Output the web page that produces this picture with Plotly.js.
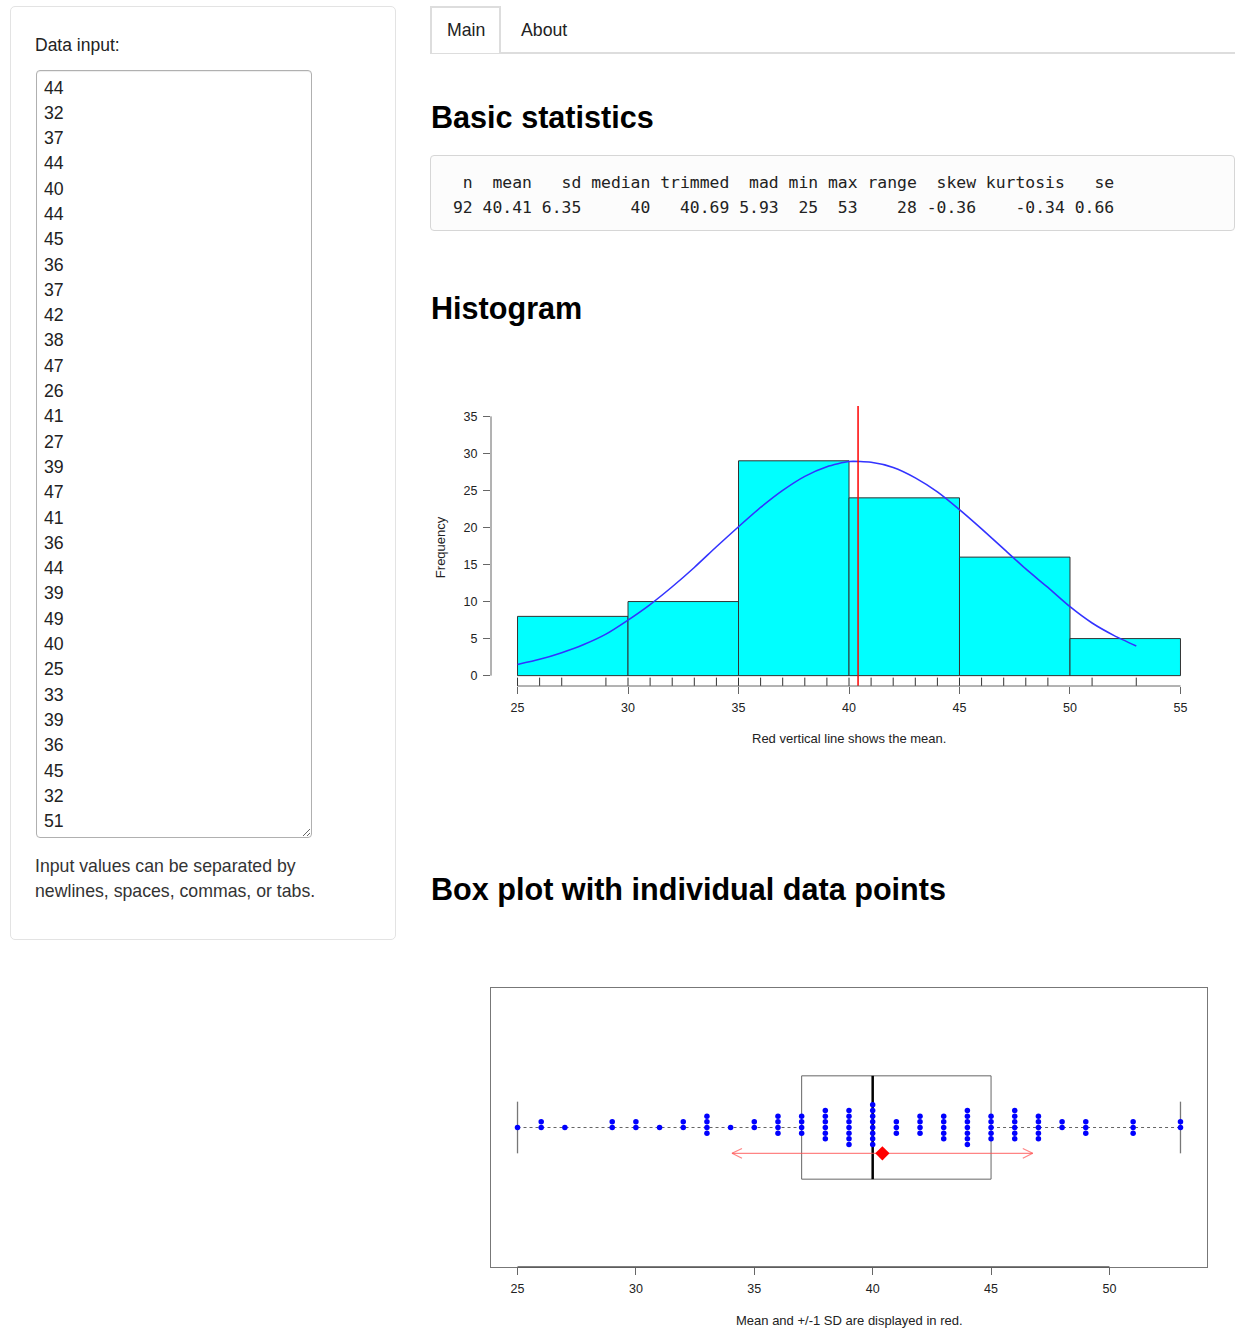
<!DOCTYPE html>
<html>
<head>
<meta charset="utf-8">
<script src="https://cdn.plot.ly/plotly-3.0.1.min.js"></script>
<style>
  html, body { margin:0; padding:0; background:#fff; width:1235px; height:1341px; overflow:hidden; }
  body { position:relative; font-family:"Liberation Sans", Arial, Helvetica, sans-serif; color:#333; }
  .abs { position:absolute; white-space:nowrap; }
  .well { left:10px; top:6px; width:386px; height:934px; box-sizing:border-box; border:1px solid #e3e3e3; border-radius:5px; background:#fff; }
  .label { left:35px; top:34.6px; font-size:17.5px; line-height:20px; color:#222; }
  textarea { position:absolute; left:36px; top:70px; width:276px; height:768px; box-sizing:border-box; border:1px solid #b0b0b0; border-radius:4px;
    padding:4.5px 6px 0 7px; margin:0; font-family:"Liberation Sans", Arial, sans-serif; font-size:17.7px; line-height:25.3px; color:#222;
    overflow:hidden; resize:vertical; box-shadow: inset 0 1px 1px rgba(0,0,0,0.075); background:#fff; }
  .help { left:35px; top:853.5px; font-size:17.7px; line-height:25.3px; color:#333; }
  .tabline { left:430px; top:51.5px; width:805px; height:2px; background:#ddd; }
  .tab { left:430px; top:6px; width:71px; height:47px; box-sizing:border-box; border:2px solid #ddd; border-bottom:none; background:#fff; }
  .tabtxt { font-size:17.7px; line-height:20px; color:#222; }
  h3 { position:absolute; margin:0; font-size:30.6px; line-height:31px; font-weight:bold; color:#000; white-space:nowrap; left:431px; }
  pre { position:absolute; left:430px; top:155px; width:805px; height:76px; box-sizing:border-box; margin:0; border:1px solid #d6d6d6; border-radius:4px;
    background:#fcfcfc; padding:13.8px 0 0 22px; font-family:"DejaVu Sans Mono", monospace; font-size:16.4px; line-height:25px; color:#222; }
  #hist { position:absolute; left:430px; top:360px; width:805px; height:420px; }
  #boxp { position:absolute; left:430px; top:940px; width:805px; height:400px; }
</style>
</head>
<body>
<div class="abs well"></div>
<div class="abs label">Data input:</div>
<textarea id="ta"></textarea>
<div class="abs help">Input values can be separated by<br>newlines, spaces, commas, or tabs.</div>

<div class="abs tabline"></div>
<div class="abs tab"></div>
<div class="abs tabtxt" style="left:447px; top:20px;">Main</div>
<div class="abs tabtxt" style="left:521px; top:20px;">About</div>

<h3 style="top:102px;">Basic statistics</h3>
<pre id="stats"></pre>
<h3 style="top:292.7px;">Histogram</h3>
<div id="hist"></div>
<h3 style="top:873.7px;">Box plot with individual data points</h3>
<div id="boxp"></div>

<script>
// ---------- data ----------
var inputValues = [44,32,37,44,40,44,45,36,37,42,38,47,26,41,27,39,47,41,36,44,39,49,40,25,33,39,36,45,32,51];

var statNames  = ["n","mean","sd","median","trimmed","mad","min","max","range","skew","kurtosis","se"];
var statValues = ["92","40.41","6.35","40","40.69","5.93","25","53","28","-0.36","-0.34","0.66"];

var binMids   = [27.5, 32.5, 37.5, 42.5, 47.5, 52.5];
var binCounts = [8, 10, 29, 24, 16, 5];
var binWidth  = 5;

var curveX = [25,26,27,28,29,30,31,32,33,34,35,36,37,38,39,40,41,42,43,44,45,46,47,48,49,50,51,52,53];
var curveY = [1.5,2.2,3.1,4.2,5.6,7.5,9.6,12.0,14.6,17.4,20.1,22.7,25.0,26.9,28.2,28.9,28.8,28.1,26.7,24.8,22.4,19.8,17.1,14.4,11.9,9.3,7.1,5.4,4.0];

var stripValues = [25,26,27,29,30,31,32,33,34,35,36,37,38,39,40,41,42,43,44,45,46,47,48,49,51,53];
var stripCounts = [1, 2, 1, 2, 2, 1, 2, 4, 1, 2, 4, 4, 6, 7, 8, 3, 4, 5, 7, 5, 6, 5, 2, 3, 3, 2];

var meanValue = 40.41;
var sdValue   = 6.35;
var boxFive   = [25, 37, 40, 45, 53]; // min, Q1, median, Q3, max

var histXTicks = [25,30,35,40,45,50,55];
var histYTicks = [0,5,10,15,20,25,30,35];
var boxXTicks  = [25,30,35,40,45,50];

// ---------- HTML parts ----------
document.getElementById('ta').value = inputValues.join('\n');
var widths = [2,5,4,6,7,4,3,3,5,5,8,4];
function pad(s, w){ while (s.length < w) s = ' ' + s; return s; }
var l1 = [], l2 = [];
for (var i = 0; i < statNames.length; i++) { l1.push(pad(statNames[i], widths[i])); l2.push(pad(statValues[i], widths[i])); }
document.getElementById('stats').textContent = l1.join(' ') + '\n' + l2.join(' ');

var FONT = 'Liberation Sans, Arial, sans-serif';
var tickFont = {family: FONT, size: 12.5, color: '#222'};

// ---------- histogram ----------
var rugX = [], rugY = [];
stripValues.forEach(function(v){ rugX.push(v, v, null); rugY.push(-1.4, -0.27, null); });

var histTraces = [
  {type:'bar', x:binMids, y:binCounts, width:binWidth, marker:{color:'#00FFFF', line:{color:'#333', width:1}}, hoverinfo:'skip'},
  {type:'scatter', mode:'lines', x:rugX, y:rugY, line:{color:'#333', width:1}, hoverinfo:'skip'},
  {type:'scatter', mode:'lines', x:curveX, y:curveY, line:{color:'#3333FF', width:1.6, shape:'spline', smoothing:0.6}, hoverinfo:'skip'},
  {type:'scatter', mode:'lines', x:[meanValue, meanValue], y:[-1.4, 36.4], line:{color:'#FF0000', width:1.5}, hoverinfo:'skip'}
];
var histLayout = {
  width:805, height:420, margin:{l:61, r:28, t:46, b:94},
  paper_bgcolor:'rgba(0,0,0,0)', plot_bgcolor:'rgba(0,0,0,0)', showlegend:false, bargap:0,
  xaxis:{range:[23.8,56.2], tickmode:'array', tickvals:histXTicks, ticks:'outside', ticklen:7, tickcolor:'#666', tickwidth:1,
         showgrid:false, zeroline:false, showline:false, tickfont:tickFont, ticklabelstandoff:3},
  yaxis:{range:[-1.4,36.4], tickmode:'array', tickvals:histYTicks, ticks:'outside', ticklen:7, tickcolor:'#666', tickwidth:1,
         showgrid:false, zeroline:false, showline:false, tickfont:tickFont, ticklabelstandoff:3},
  shapes:[
    {type:'line', xref:'x', yref:'paper', x0:histXTicks[0], x1:histXTicks[histXTicks.length-1], y0:0, y1:0, line:{color:'#666', width:1}},
    {type:'line', xref:'paper', yref:'y', x0:0, x1:0, y0:histYTicks[0], y1:histYTicks[histYTicks.length-1], line:{color:'#666', width:1}}
  ],
  annotations:[
    {xref:'paper', yref:'paper', x:-0.0712, y:0.496, text:'Frequency', textangle:-90, showarrow:false, font:{family:FONT, size:13, color:'#222'}, xanchor:'center', yanchor:'middle'},
    {xref:'paper', yref:'paper', x:0.5, y:-0.189, text:'Red vertical line shows the mean.', showarrow:false, font:{family:FONT, size:13, color:'#222'}, xanchor:'center', yanchor:'middle'}
  ]
};
Plotly.newPlot('hist', histTraces, histLayout, {displayModeBar:false, staticPlot:true});

// ---------- box plot ----------
var step = 0.022;
var dotX = [], dotY = [];
stripValues.forEach(function(v, k){
  var n = stripCounts[k], h = Math.floor(n/2);
  for (var i = 0; i < n; i++) { dotX.push(v); dotY.push(1 - (i - h) * step); }
});
var bMin = boxFive[0], q1 = boxFive[1], med = boxFive[2], q3 = boxFive[3], bMax = boxFive[4];
var lo = meanValue - sdValue, hi = meanValue + sdValue, yA = 0.9, ahx = 0.42, ahy = 0.019;

var boxTraces = [
  {type:'scatter', mode:'lines', x:[bMin, q1, null, q3, bMax], y:[1,1,null,1,1], line:{color:'#666', width:1, dash:'3px,3px'}, hoverinfo:'skip'},
  {type:'scatter', mode:'lines', x:[bMin,bMin,null,bMax,bMax], y:[0.9,1.1,null,0.9,1.1], line:{color:'#777', width:1.3}, hoverinfo:'skip'},
  {type:'scatter', mode:'lines', x:[q1,q3,q3,q1,q1], y:[0.8,0.8,1.2,1.2,0.8], line:{color:'#666', width:1}, hoverinfo:'skip'},
  {type:'scatter', mode:'lines', x:[med,med], y:[0.8,1.2], line:{color:'#000', width:2.5}, hoverinfo:'skip'},
  {type:'scatter', mode:'markers', x:dotX, y:dotY, marker:{color:'#0000FF', size:5.5, line:{width:0}}, hoverinfo:'skip'},
  {type:'scatter', mode:'lines', x:[lo, hi, null, lo+ahx, lo, lo+ahx, null, hi-ahx, hi, hi-ahx],
   y:[yA, yA, null, yA+ahy, yA, yA-ahy, null, yA+ahy, yA, yA-ahy], line:{color:'rgba(255,80,80,0.7)', width:1.2}, hoverinfo:'skip'},
  {type:'scatter', mode:'markers', x:[meanValue], y:[yA], marker:{color:'#FF0000', size:11, symbol:'diamond', line:{width:0}}, hoverinfo:'skip'}
];
var boxLayout = {
  width:805, height:400, margin:{l:61, r:28, t:48, b:73},
  paper_bgcolor:'rgba(0,0,0,0)', plot_bgcolor:'rgba(0,0,0,0)', showlegend:false,
  xaxis:{range:[23.88,54.12], tickmode:'array', tickvals:boxXTicks, ticks:'outside', ticklen:7, tickcolor:'#666', tickwidth:1,
         showgrid:false, zeroline:false, showline:true, mirror:true, linecolor:'#777', linewidth:1, tickfont:tickFont, ticklabelstandoff:3},
  yaxis:{range:[0.46,1.54], showticklabels:false, ticks:'', showgrid:false, zeroline:false, showline:true, mirror:true, linecolor:'#777', linewidth:1},
  shapes:[
    {type:'line', xref:'x', yref:'paper', x0:boxXTicks[0], x1:boxXTicks[boxXTicks.length-1], y0:0, y1:0, line:{color:'#555', width:1.3}}
  ],
  annotations:[
    {xref:'paper', yref:'paper', x:0.5, y:-0.1900, text:'Mean and +/-1 SD are displayed in red.', showarrow:false, font:{family:FONT, size:13, color:'#222'}, xanchor:'center', yanchor:'middle'}
  ]
};
Plotly.newPlot('boxp', boxTraces, boxLayout, {displayModeBar:false, staticPlot:true});
</script>
</body>
</html>
